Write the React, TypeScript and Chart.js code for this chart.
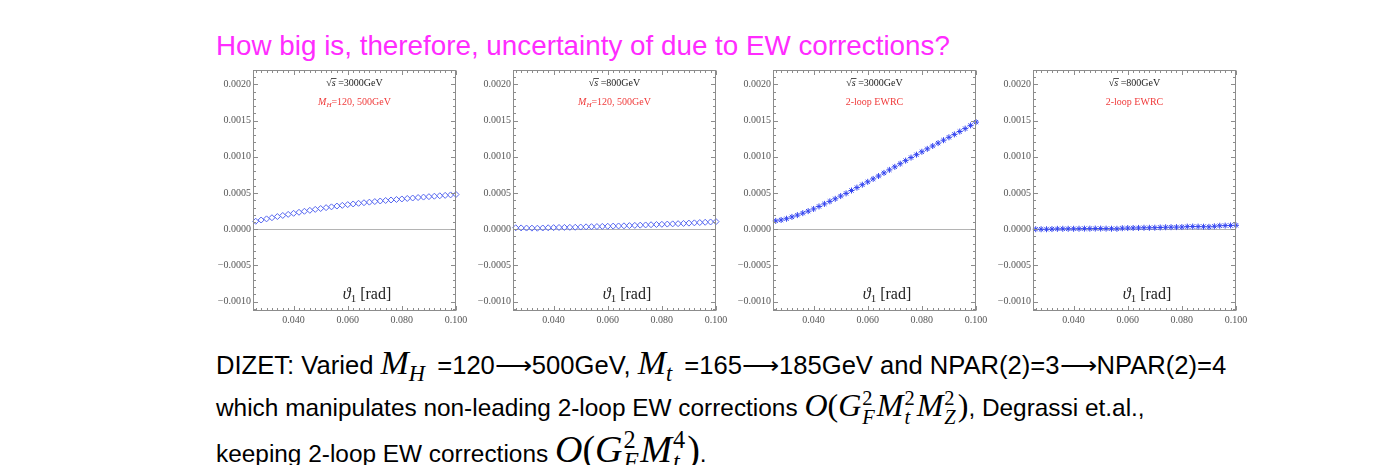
import React, { useEffect, useRef } from 'react';
import { Chart, registerables } from 'chart.js';

Chart.register(...registerables);

const SERIF = '"Liberation Serif", "DejaVu Serif", serif';
const SANS = '"Liberation Sans", Arial, Helvetica, sans-serif';

// scattering angle theta_1 [rad]
const thetaRad = [
  0.026, 0.028, 0.030, 0.032, 0.034, 0.036, 0.038, 0.040, 0.042, 0.044,
  0.046, 0.048, 0.050, 0.052, 0.054, 0.056, 0.058, 0.060, 0.062, 0.064,
  0.066, 0.068, 0.070, 0.072, 0.074, 0.076, 0.078, 0.080, 0.082, 0.084,
  0.086, 0.088, 0.090, 0.092, 0.094, 0.096, 0.098, 0.100,
];

// sqrt(s)=3000 GeV, M_H = 120 vs 500 GeV
const diffMH3000 = [
  0.000110, 0.000127, 0.000143, 0.000159, 0.000175, 0.000190, 0.000205, 0.000220, 0.000234, 0.000248,
  0.000261, 0.000274, 0.000286, 0.000298, 0.000309, 0.000320, 0.000330, 0.000340, 0.000349, 0.000358,
  0.000366, 0.000374, 0.000382, 0.000390, 0.000397, 0.000404, 0.000411, 0.000418, 0.000425, 0.000431,
  0.000438, 0.000444, 0.000450, 0.000456, 0.000462, 0.000468, 0.000474, 0.000480,
];

// sqrt(s)=800 GeV, M_H = 120 vs 500 GeV
const diffMH800 = [
  0.000020, 0.000018, 0.000016, 0.000015, 0.000014, 0.000017, 0.000020, 0.000022, 0.000024, 0.000025,
  0.000026, 0.000027, 0.000030, 0.000033, 0.000035, 0.000037, 0.000039, 0.000041, 0.000043, 0.000045,
  0.000047, 0.000050, 0.000053, 0.000056, 0.000059, 0.000062, 0.000065, 0.000068, 0.000071, 0.000074,
  0.000077, 0.000080, 0.000084, 0.000088, 0.000092, 0.000096, 0.000100, 0.000105,
];

// sqrt(s)=3000 GeV, 2-loop EWRC
const diff2loop3000 = [
  0.000115, 0.000128, 0.000145, 0.000170, 0.000195, 0.000222, 0.000250, 0.000280, 0.000315, 0.000350,
  0.000385, 0.000420, 0.000458, 0.000495, 0.000535, 0.000575, 0.000615, 0.000655, 0.000695, 0.000735,
  0.000778, 0.000820, 0.000862, 0.000905, 0.000948, 0.000990, 0.001030, 0.001070, 0.001110, 0.001150,
  0.001190, 0.001230, 0.001270, 0.001310, 0.001350, 0.001390, 0.001435, 0.001480,
];

// sqrt(s)=800 GeV, 2-loop EWRC
const diff2loop800 = [
  0.000000, 0.000000, 0.000000, 0.000002, 0.000005, 0.000006, 0.000006, 0.000006, 0.000007, 0.000008,
  0.000008, 0.000009, 0.000009, 0.000008, 0.000007, 0.000006, 0.000014, 0.000016, 0.000017, 0.000018,
  0.000020, 0.000020, 0.000021, 0.000024, 0.000027, 0.000028, 0.000029, 0.000030, 0.000036, 0.000037,
  0.000036, 0.000035, 0.000033, 0.000040, 0.000048, 0.000050, 0.000052, 0.000054,
];

const X_MIN = 0.025;
const X_MAX = 0.1;
const Y_MIN = -0.00113;
const Y_MAX = 0.0022;
const X_MAJOR = 0.02;
const X_MINOR = 0.002;
const Y_MAJOR = 0.0005;
const Y_MINOR = 0.0001;

type Panel = {
  sqrtS: string;
  caption: 'mh' | 'ewrc';
  values: number[];
  marker: 'rectRot' | 'star';
};

const panels: Panel[] = [
  { sqrtS: '3000GeV', caption: 'mh', values: diffMH3000, marker: 'rectRot' },
  { sqrtS: '800GeV', caption: 'mh', values: diffMH800, marker: 'rectRot' },
  { sqrtS: '3000GeV', caption: 'ewrc', values: diff2loop3000, marker: 'star' },
  { sqrtS: '800GeV', caption: 'ewrc', values: diff2loop800, marker: 'star' },
];

function tickValues(min: number, max: number, step: number): number[] {
  const out: number[] = [];
  const start = Math.ceil(min / step - 1e-9);
  for (let i = start; i * step <= max + 1e-12; i++) out.push(i * step);
  return out;
}
function isMajor(v: number, major: number) {
  const r = v / major;
  return Math.abs(r - Math.round(r)) < 1e-6;
}

type Run = { text: string; font: string; color: string; dy?: number; w?: number };
function drawRuns(ctx: CanvasRenderingContext2D, runs: Run[], cx: number, baseline: number) {
  let total = 0;
  runs.forEach((r) => {
    ctx.font = r.font;
    r.w = ctx.measureText(r.text).width;
    total += r.w;
  });
  let x = cx - total / 2;
  const pos: number[] = [];
  runs.forEach((r) => {
    ctx.font = r.font;
    ctx.fillStyle = r.color;
    ctx.fillText(r.text, x, baseline + (r.dy || 0));
    pos.push(x);
    x += r.w || 0;
  });
  return pos;
}

const decorPlugin = {
  id: 'panelDecor',
  afterDraw(chart: any, _args: any, opts: any) {
    const { ctx, chartArea: a, scales } = chart;
    const xs = scales.x;
    const ys = scales.y;
    ctx.save();
    const L = Math.round(a.left) + 0.5;
    const R = Math.round(a.right) - 0.5;
    const T = Math.round(a.top) + 0.5;
    const B = Math.round(a.bottom) - 0.5;
    ctx.strokeStyle = '#8c8c8c';
    ctx.lineWidth = 1;
    ctx.strokeRect(L, T, R - L, B - T);

    ctx.beginPath();
    tickValues(X_MIN, X_MAX, X_MINOR).forEach((v) => {
      const len = isMajor(v, X_MAJOR) ? 4.5 : 2.5;
      const px = Math.round(xs.getPixelForValue(v)) + 0.5;
      ctx.moveTo(px, B);
      ctx.lineTo(px, B - len);
      ctx.moveTo(px, T);
      ctx.lineTo(px, T + len);
    });
    tickValues(Y_MIN, Y_MAX, Y_MINOR).forEach((v) => {
      const len = isMajor(v, Y_MAJOR) ? 4.5 : 2.5;
      const py = Math.round(ys.getPixelForValue(v)) + 0.5;
      ctx.moveTo(L, py);
      ctx.lineTo(L + len, py);
      ctx.moveTo(R, py);
      ctx.lineTo(R - len, py);
    });
    ctx.stroke();

    const cx = (a.left + a.right) / 2;
    ctx.textBaseline = 'alphabetic';
    // sqrt(s) line
    const pos = drawRuns(
      ctx,
      [
        { text: '\u221A', font: `10px ${SERIF}`, color: '#222' },
        { text: 's', font: `italic 10px ${SERIF}`, color: '#222' },
        { text: ' =' + opts.sqrtS, font: `10px ${SERIF}`, color: '#222' },
      ],
      cx,
      21
    );
    ctx.font = `italic 10px ${SERIF}`;
    const sw = ctx.measureText('s').width;
    ctx.beginPath();
    ctx.strokeStyle = '#222';
    ctx.lineWidth = 0.8;
    ctx.moveTo(pos[1] - 0.5, 13.5);
    ctx.lineTo(pos[1] + sw + 0.8, 13.5);
    ctx.stroke();

    const red = '#f03a3a';
    if (opts.caption === 'mh') {
      drawRuns(
        ctx,
        [
          { text: 'M', font: `italic 10px ${SERIF}`, color: red },
          { text: 'H', font: `italic 7px ${SERIF}`, color: red, dy: 2 },
          { text: '=120, 500GeV', font: `10px ${SERIF}`, color: red },
        ],
        cx,
        40
      );
    } else {
      drawRuns(ctx, [{ text: '2-loop EWRC', font: `10px ${SERIF}`, color: red }], cx, 40);
    }

    // axis label inside the frame
    drawRuns(
      ctx,
      [
        { text: '\u03D1', font: `italic 16px ${SERIF}`, color: '#222' },
        { text: '1', font: `11px ${SERIF}`, color: '#222', dy: 3 },
        { text: ' [rad]', font: `16px ${SERIF}`, color: '#222' },
      ],
      157,
      234
    );
    ctx.restore();
  },
};

function fmt(v: number, digits: number) {
  if (Math.abs(v) < 1e-12) return (0).toFixed(digits);
  return v.toFixed(digits).replace('-', '\u2212');
}

function zeroPadding(s: any) {
  s.paddingTop = 0;
  s.paddingBottom = 0;
  s.paddingLeft = 0;
  s.paddingRight = 0;
}

function PanelChart({ panel, left }: { panel: Panel; left: number }) {
  const ref = useRef<HTMLCanvasElement | null>(null);
  useEffect(() => {
    if (!ref.current) return;
    const star = panel.marker === 'star';
    const chart = new Chart(ref.current, {
      type: 'scatter',
      data: {
        datasets: [
          {
            data: thetaRad.map((x, i) => ({ x, y: panel.values[i] })),
            showLine: false,
            pointStyle: panel.marker,
            pointRadius: 3,
            pointBorderColor: star ? '#3344f0' : '#5566f0',
            pointBackgroundColor: 'rgba(0,0,0,0)',
            pointBorderWidth: 1,
            clip: false,
          } as any,
        ],
      },
      options: {
        responsive: false,
        animation: false,
        devicePixelRatio: 1,
        layout: { padding: { top: 3, right: 14, left: 0, bottom: 0 } },
        events: [],
        plugins: {
          legend: { display: false },
          tooltip: { enabled: false },
          panelDecor: { sqrtS: panel.sqrtS, caption: panel.caption },
        } as any,
        scales: {
          x: {
            type: 'linear',
            min: X_MIN,
            max: X_MAX,
            afterFit: (s: any) => {
              s.height = 16;
              zeroPadding(s);
            },
            grid: { display: false, drawTicks: false },
            border: { display: false },
            ticks: {
              stepSize: X_MAJOR,
              includeBounds: false,
              padding: 3,
              maxRotation: 0,
              autoSkip: false,
              color: '#555',
              font: { family: SERIF, size: 10 },
              callback: (v: any) => fmt(Number(v), 3),
            },
          },
          y: {
            type: 'linear',
            min: Y_MIN,
            max: Y_MAX,
            afterFit: (s: any) => {
              s.width = 43;
              zeroPadding(s);
            },
            grid: {
              drawTicks: false,
              lineWidth: 1,
              color: (c: any) =>
                c.tick && Math.abs(c.tick.value) < 1e-12 ? '#b4b4b4' : 'rgba(0,0,0,0)',
            },
            border: { display: false },
            ticks: {
              stepSize: Y_MAJOR,
              includeBounds: false,
              padding: 2,
              autoSkip: false,
              color: '#555',
              font: { family: SERIF, size: 10 },
              callback: (v: any) => fmt(Number(v), 4),
            },
          },
        },
      } as any,
      plugins: [decorPlugin as any],
    });
    return () => chart.destroy();
  }, [panel]);
  return (
    <canvas
      ref={ref}
      width={260}
      height={262}
      style={{ position: 'absolute', left, top: 65, width: 260, height: 262 }}
    />
  );
}

const mathStyle = (size: number): React.CSSProperties => ({
  fontFamily: SERIF,
  fontStyle: 'italic',
  fontSize: size,
});
const varStyle: React.CSSProperties = { ...mathStyle(34), marginRight: 5 };
const subStyle: React.CSSProperties = { fontSize: '0.66em', verticalAlign: '-0.3em', lineHeight: 0 };

function SupSub({ sup, sub }: { sup: string; sub: string }) {
  return (
    <span
      style={{
        display: 'inline-block',
        verticalAlign: '-0.36em',
        lineHeight: '0.92em',
        fontSize: '0.64em',
        textAlign: 'left',
        fontStyle: 'normal',
        marginRight: 2,
        marginLeft: 1,
      }}
    >
      <span style={{ display: 'block' }}>{sup}</span>
      <span style={{ display: 'block', fontStyle: 'italic' }}>{sub}</span>
    </span>
  );
}

const ARROW = '\u27F6';

const lineStyle = (top: number, size: number): React.CSSProperties => ({
  position: 'absolute',
  left: 216,
  top,
  fontFamily: SANS,
  fontSize: size,
  lineHeight: '30px',
  whiteSpace: 'nowrap',
  color: '#000',
});

export default function App() {
  return (
    <div
      style={{
        position: 'absolute',
        left: 0,
        top: 0,
        width: 1388,
        height: 465,
        overflow: 'hidden',
        background: '#fff',
      }}
    >
      <div
        style={{
          position: 'absolute',
          left: 216,
          top: 29,
          fontFamily: SANS,
          fontSize: 27.8,
          lineHeight: '34px',
          color: '#ff2cff',
          whiteSpace: 'nowrap',
        }}
      >
        How big is, therefore, uncertainty of due to EW corrections?
      </div>
      {panels.map((p, i) => (
        <PanelChart key={i} panel={p} left={210 + i * 260} />
      ))}
      <div style={lineStyle(348, 25.6)}>
        DIZET: Varied{' '}
        <span style={varStyle}>
          M<span style={subStyle}>H</span>
        </span>{' '}
        =120{ARROW}500GeV,{' '}
        <span style={varStyle}>
          M<span style={subStyle}>t</span>
        </span>{' '}
        =165{ARROW}185GeV and NPAR(2)=3{ARROW}NPAR(2)=4
      </div>
      <div style={lineStyle(389, 24.4)}>
        which manipulates non-leading 2-loop EW corrections{' '}
        <span style={mathStyle(32)}>
          O<span style={{ fontStyle: 'normal' }}>(</span>G
          <SupSub sup="2" sub="F" />M
          <SupSub sup="2" sub="t" />M
          <SupSub sup="2" sub="Z" />
          <span style={{ fontStyle: 'normal' }}>)</span>
        </span>
        , Degrassi et.al.,
      </div>
      <div style={lineStyle(429, 24.4)}>
        keeping 2-loop EW corrections{' '}
        <span style={mathStyle(38)}>
          O<span style={{ fontStyle: 'normal' }}>(</span>G
          <SupSub sup="2" sub="F" />M
          <SupSub sup="4" sub="t" />
          <span style={{ fontStyle: 'normal' }}>)</span>
        </span>
        .
      </div>
    </div>
  );
}
